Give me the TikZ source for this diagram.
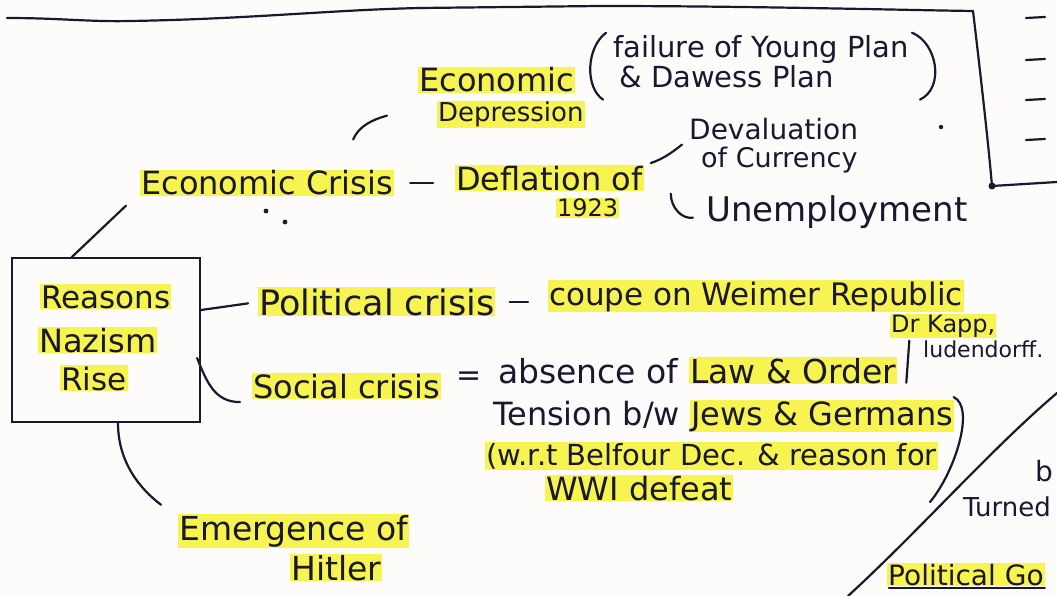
\documentclass[tikz,border=0pt]{standalone}
\usepackage{fontspec}
\setmainfont{DejaVu Sans}
\usetikzlibrary{calc}
\definecolor{ink}{RGB}{24,24,46}
\definecolor{hl}{RGB}{247,243,80}
\definecolor{paper}{RGB}{253,252,251}
% highlighter-pen marking inside a line of text
\newcommand\hlmark[1]{{\setlength{\fboxsep}{1pt}\colorbox{hl}{#1}}}
\tikzset{
  pen/.style={draw=ink, line width=2.2pt, line cap=round, line join=round},
  hw/.style={text=ink, inner sep=1pt, anchor=base west, font=\fontsize{#1}{#1}\selectfont},
  hwm/.style={hw=#1, fill=hl},
}
\begin{document}
\begin{tikzpicture}[x=1pt,y=-1pt]
\fill[paper] (0,0) rectangle (1057,596);
\useasboundingbox (0,0) rectangle (1057,596);

% page frame lines
\draw[pen] (7,18) .. controls (60,18) and (90,22) .. (130,21)
  .. controls (250,19) and (330,10) .. (420,8) -- (600,6)
  .. controls (750,6) and (900,10) .. (973,11);
\draw[pen] (973,11) .. controls (980,70) and (988,140) .. (992,186) -- (1057,182);
\fill[ink] (992,186) circle (3.5);
\foreach \y in {18,60,100,140} \draw[pen] (1026,\y) -- (1045,{\y-1});
\draw[pen] (848,596) .. controls (920,530) and (990,450) .. (1057,393);

% central box
\node[draw=ink, line width=2.2pt, minimum width=188pt, minimum height=164pt, inner sep=0pt] (box) at (106,340) {};
\node[hwm=31] (r1) at (40,308) {Reasons};
\node[hwm=32] (r2) at (38,352) {Nazism};
\node[hwm=31] (r3) at (60,390) {Rise};

% economic branch
\node[hwm=32] (ecocri) at (140,195) {Economic Crisis};
\node[hwm=32] (ecodepA) at (418,92) {Economic};
\node[hwm=26] (ecodepB) at (437,122) {Depression};
\node[hw=29] (plansA) at (612,58) {failure of Young Plan};
\node[hw=29] (plansB) at (618,88) {\& Dawess Plan};
\node[hwm=32] (defl) at (455,190) {Deflation of};
\node[hwm=24] (year) at (556,217) {1923};
\node[hw=28] (devalA) at (688,140) {Devaluation};
\node[hw=27] (devalB) at (700,168) {of Currency};
\node[hw=34] (unemp) at (705,222) {Unemployment};

% political branch
\node[hwm=35] (pol) at (258,315) {Political crisis};
\node[hwm=31] (coup) at (548,305) {coupe on Weimer Republic};
\node[hwm=24] (kapp) at (890,332) {Dr Kapp,};
\node[hw=22] (lud) at (922,357) {ludendorff.};

% social branch
\node[hwm=32] (soc) at (252,398) {Social crisis};
\node[hw=30, anchor=center] (eq) at (469,379) {=};
\node[hw=33] (abs) at (497,383) {absence of \hlmark{Law \& Order}};
\node[hw=32] (ten) at (492,425) {Tension b/w \hlmark{Jews \& Germans}};
\node[hwm=29] (wrt) at (485,465) {(w.r.t Belfour Dec. \& reason for};
\node[hwm=32] (wwi) at (545,500) {WWI defeat};

% leader
\node[hwm=33] (emerg) at (178,540) {Emergence of};
\node[hwm=33] (hit) at (290,580) {Hitler};

% next section, by the page edge
\node[hw=28] (bfrag) at (1034,481) {b};
\node[hw=26] (turned) at (962,516) {Turned};
\node[hwm=28] (polgo) at (887,585) {Political Go};
\draw[pen] ($(polgo.south west)+(2,1)$) -- ($(polgo.south east)+(0,1)$);

% connectors from the box
\draw[pen] ($(box.north)+(-34,0)$) -- ($(ecocri.south west)+(-14,9)$);
\draw[pen, shorten >=10pt] ($(box.east)+(0,-30)$) -- (pol.west);
\draw[pen] ($(box.east)+(-4,18)$) .. controls +(10,25) and +(-25,0) .. ($(soc.west)+(-12,16)$);
\draw[pen] ($(box.south)+(12,0)$) .. controls +(0,40) and +(-20,-15) .. ($(emerg.north west)+(-17,-9)$);

% economic connectors
\draw[pen] ($(ecocri.north east)+(-41,-30)$) .. controls +(6,-14) and +(-14,4) .. ($(ecodepB.south west)+(-50,-13)$);
\draw[pen, shorten <=16pt, shorten >=22pt] (ecocri.east) -- (ecocri.east -| defl.west);
\draw[pen] ($(defl.east)+(7,-15)$) .. controls +(12,-4) and +(-10,8) .. ($(devalA.south west)+(-6,3)$);
\draw[pen] ($(defl.south east)+(27,2)$) .. controls +(0,15) and +(-10,2) .. ($(unemp.west)+(-12,5)$);
\draw[pen] ($(plansA.north west)+(-6,-2)$) .. controls +(-20,15) and +(-18,-12) .. ($(plansB.south west)+(-15,10)$);
\draw[pen] ($(plansA.north east)+(2,-2)$) .. controls +(25,10) and +(25,-12) .. ($(plansB.south east)+(85,10)$);

% political and social connectors
\draw[pen, shorten <=14pt, shorten >=20pt] (pol.east) -- (pol.east -| coup.west);
\draw[pen] ($(abs.east)+(11,-30)$) -- ($(abs.east)+(8,12)$);
\draw[pen] ($(ten.north east)+(-2,-2)$) .. controls +(22,10) and +(25,-30) .. ($(wrt.south east)+(-8,32)$);

% stray pen dots
\fill[ink] (266,211) circle (2.4);
\fill[ink] (285,222) circle (2.4);
\fill[ink] (941,127) circle (2.2);
\end{tikzpicture}
\end{document}
